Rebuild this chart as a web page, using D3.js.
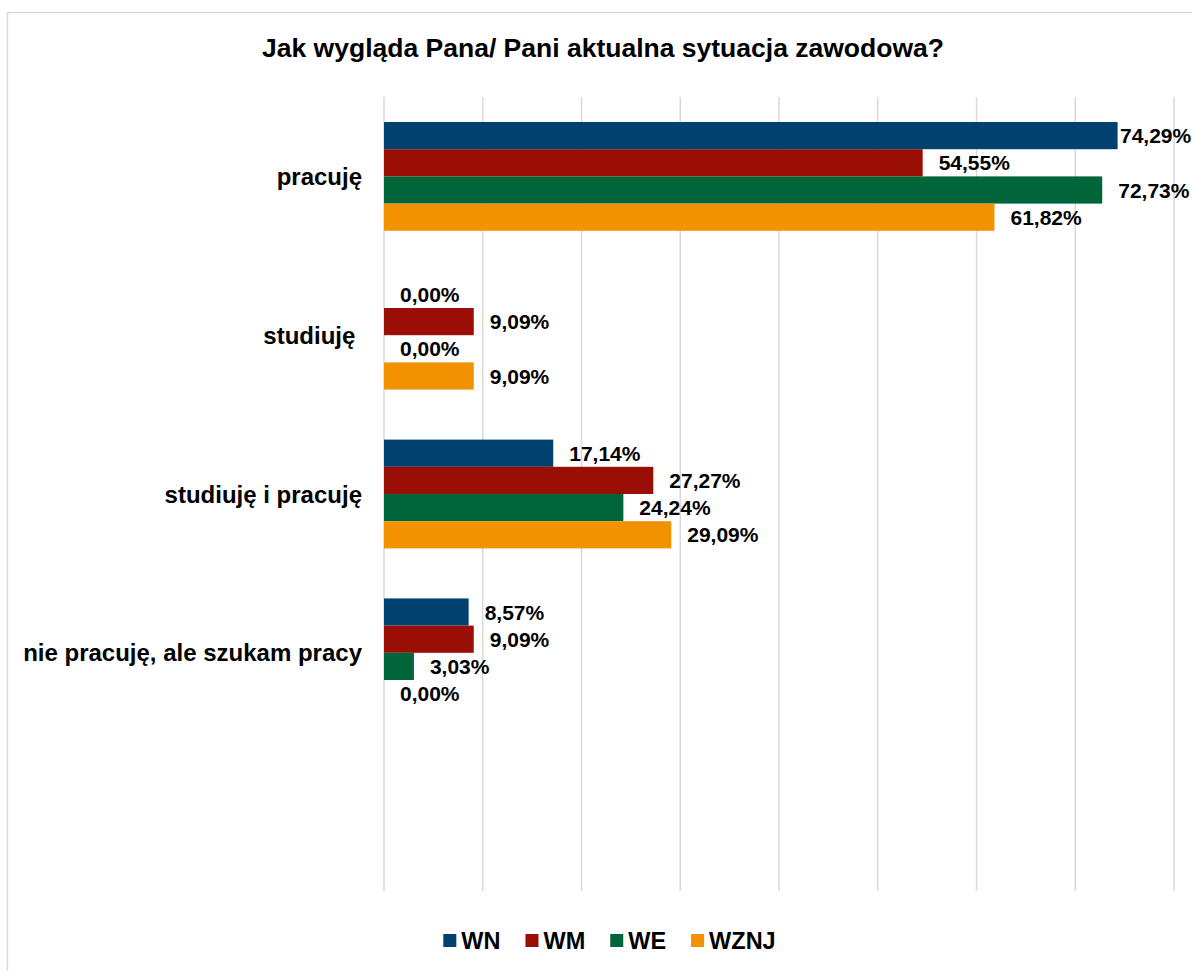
<!DOCTYPE html>
<html>
<head>
<meta charset="utf-8">
<script src="https://cdn.jsdelivr.net/npm/d3@7"></script>
<style>
  html, body { margin: 0; padding: 0; background: #fff; }
  svg { display: block; }
  text { font-family: "Liberation Sans", Arial, sans-serif; font-weight: bold; fill: #000; }
</style>
</head>
<body>
<svg id="chart" width="1192" height="971"></svg>
<script>
const title = "Jak wygląda Pana/ Pani aktualna sytuacja zawodowa?";
const categories = ["pracuję", "studiuję ", "studiuję i pracuję", "nie pracuję, ale szukam pracy", ""];
const seriesNames = ["WN", "WM", "WE", "WZNJ"];
const seriesColors = ["#00416f", "#9b0e05", "#00663a", "#f39200"];
const WN   = [74.29, 0.00, 17.14, 8.57, null];
const WM   = [54.55, 9.09, 27.27, 9.09, null];
const WE   = [72.73, 0.00, 24.24, 3.03, null];
const WZNJ = [61.82, 9.09, 29.09, 0.00, null];
const xTicks = [0, 10, 20, 30, 40, 50, 60, 70, 80];

const series = [WN, WM, WE, WZNJ];
const W = 1192, H = 971;
const svg = d3.select("#chart");

// chart frame (extends past the cropped picture)
svg.append("rect")
  .attr("x", 7.5).attr("y", 12.5)
  .attr("width", 1230).attr("height", 1000)
  .attr("fill", "#fff").attr("stroke", "#d9d9d9").attr("stroke-width", 1.5);

const x = d3.scaleLinear().domain([0, 80]).range([384, 1174]);
const y0 = d3.scaleBand().domain(categories.map((c, i) => i)).range([97, 891]).padding(0);
const y1 = d3.scaleBand().domain(seriesNames).range([0, y0.bandwidth()]).paddingInner(0).paddingOuter(0.92);

// gridlines
svg.append("g").selectAll("line").data(xTicks).join("line")
  .attr("x1", d => x(d)).attr("x2", d => x(d))
  .attr("y1", 97).attr("y2", 891)
  .attr("stroke", "#d9d9d9").attr("stroke-width", 1.5);

// title
svg.append("text")
  .attr("x", 603).attr("y", 57)
  .attr("text-anchor", "middle")
  .style("font-size", "26.5px")
  .text(title);

// bars
const rows = [];
categories.forEach((c, ci) => {
  series.forEach((s, si) => {
    if (s[ci] !== null) rows.push({ ci, si, v: s[ci] });
  });
});

svg.append("g").selectAll("rect").data(rows).join("rect")
  .attr("x", x(0))
  .attr("y", d => y0(d.ci) + y1(seriesNames[d.si]))
  .attr("width", d => x(d.v) - x(0))
  .attr("height", y1.bandwidth())
  .attr("fill", d => seriesColors[d.si]);

const fmt = v => v.toFixed(2).replace(".", ",") + "%";
svg.append("g").selectAll("text").data(rows).join("text")
  .attr("x", d => Math.min(x(d.v) + 16, W - 72))
  .attr("y", d => y0(d.ci) + y1(seriesNames[d.si]) + y1.bandwidth() / 2)
  .attr("dy", "0.36em")
  .style("font-size", "21px")
  .text(d => fmt(d.v));

// category labels
svg.append("g").selectAll("text").data(categories).join("text")
  .attr("x", 362)
  .attr("y", (d, i) => y0(i) + y0.bandwidth() / 2)
  .attr("dy", "0.36em")
  .attr("text-anchor", "end")
  .style("font-size", "24px")
  .style("white-space", "pre")
  .text(d => d);

// legend
const lg = svg.append("g");
const items = lg.selectAll("g").data(seriesNames).join("g");
items.append("rect").attr("width", 13).attr("height", 13).attr("y", -7)
  .attr("fill", (d, i) => seriesColors[i]);
items.append("text").attr("x", 18).attr("dy", "0.36em")
  .style("font-size", "23.5px").text(d => d);
let cx = 0;
const offs = [];
items.each(function() {
  offs.push(cx);
  const tw = d3.select(this).select("text").node().getComputedTextLength();
  cx += 18 + tw + 25;
});
const total = cx - 25;
const startX = 609.5 - total / 2;
items.attr("transform", (d, i) => `translate(${startX + offs[i]},941)`);
</script>
</body>
</html>
